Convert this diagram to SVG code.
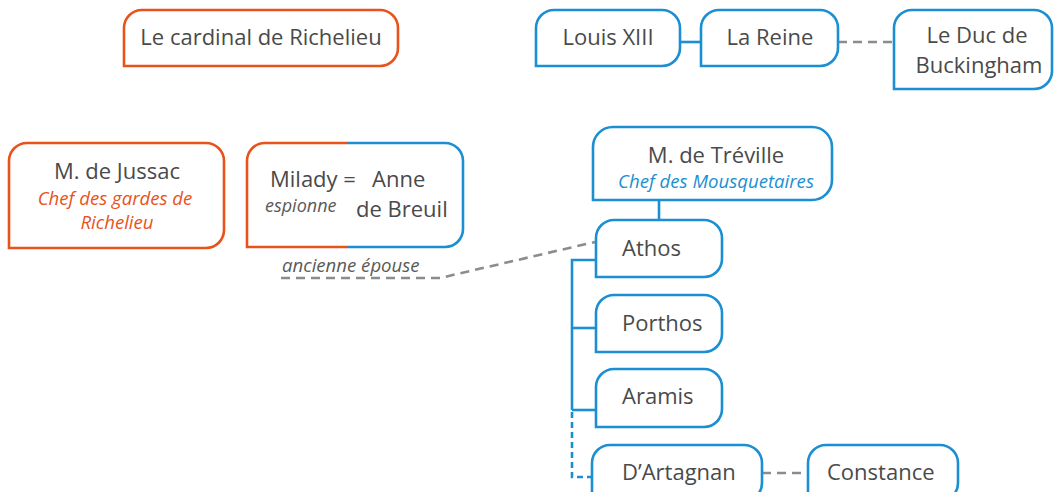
<svg xmlns="http://www.w3.org/2000/svg" width="1054" height="492" viewBox="0 0 1054 492">
<style>
.or{fill:#fff;stroke:#e8531c;stroke-width:2.6}
.bl{fill:#fff;stroke:#1b8fd2;stroke-width:2.6}
.t{font-family:"Open Sans","Liberation Sans",sans-serif;font-size:22px;fill:#4a4a4a}
.c{text-anchor:middle}
.i{font-style:italic;font-size:18.6px}
.io{fill:#e8531c}
.ib{fill:#1b8fd2}
.ig{fill:#5a5a5a}
.sl{fill:none;stroke:#1b8fd2;stroke-width:2.6}
.dl{fill:none;stroke:#1b8fd2;stroke-width:2.6;stroke-dasharray:6 4}
.dg{fill:none;stroke:#8c8c8c;stroke-width:2.6;stroke-dasharray:9 6}
</style>
<rect width="1054" height="492" fill="#fff"/>
<g id="connectors">
<line class="sl" x1="680" y1="42" x2="701" y2="42"/>
<line class="dg" x1="838" y1="42" x2="894" y2="42"/>
<line class="sl" x1="659" y1="200" x2="659" y2="220"/>
<path class="sl" d="M596 260 H572 V410"/>
<line class="sl" x1="572" y1="328" x2="596" y2="328"/>
<line class="sl" x1="572" y1="410" x2="596" y2="410"/>
<path class="dl" d="M572 412 V477 H592"/>
<path class="dg" d="M281 278 H440 L595 242"/>
<line class="dg" x1="762" y1="473" x2="808" y2="473"/>
</g>
<g id="richelieu">
<path class="or" d="M124 66 V28 A18 18 0 0 1 142 10 H380 A18 18 0 0 1 398 28 V48 A18 18 0 0 1 380 66 Z"/>
<text class="t c" x="261" y="45">Le cardinal de Richelieu</text>
</g>
<g id="louis">
<path class="bl" d="M536 66 V28 A18 18 0 0 1 554 10 H662 A18 18 0 0 1 680 28 V48 A18 18 0 0 1 662 66 Z"/>
<text class="t c" x="608" y="45">Louis XIII</text>
</g>
<g id="reine">
<path class="bl" d="M701 66 V28 A18 18 0 0 1 719 10 H820 A18 18 0 0 1 838 28 V48 A18 18 0 0 1 820 66 Z"/>
<text class="t c" x="770" y="45">La Reine</text>
</g>
<g id="buckingham">
<path class="bl" d="M894 89 V28 A18 18 0 0 1 912 10 H1034 A18 18 0 0 1 1052 28 V71 A18 18 0 0 1 1034 89 Z"/>
<text class="t c" x="977" y="43">Le Duc de</text>
<text class="t c" x="979" y="73">Buckingham</text>
</g>
<g id="jussac">
<path class="or" d="M9 248 V161 A18 18 0 0 1 27 143 H206 A18 18 0 0 1 224 161 V230 A18 18 0 0 1 206 248 Z"/>
<text class="t c" x="117" y="179">M. de Jussac</text>
<text class="t c i io" x="115" y="205">Chef des gardes de</text>
<text class="t c i io" x="117" y="229">Richelieu</text>
</g>
<g id="milady">
<path class="or" d="M347 247 H247 V161 A18 18 0 0 1 265 143 H347"/>
<path class="bl" style="fill:none" d="M347 143 H445 A18 18 0 0 1 463 161 V229 A18 18 0 0 1 445 247 H347"/>
<text class="t" x="270" y="187">Milady =</text>
<text class="t" x="372" y="187">Anne</text>
<text class="t i ig" x="265" y="212" style="font-size:18px">espionne</text>
<text class="t" x="356" y="217">de Breuil</text>
<text class="t i ig" x="282" y="272">ancienne épouse</text>
</g>
<g id="treville">
<path class="bl" d="M593 200 V147 A20 20 0 0 1 613 127 H812 A20 20 0 0 1 832 147 V180 A20 20 0 0 1 812 200 Z"/>
<text class="t c" x="716" y="163">M. de Tréville</text>
<text class="t c i ib" x="716" y="188">Chef des Mousquetaires</text>
</g>
<g id="athos">
<path class="bl" d="M596 277 V238 A18 18 0 0 1 614 220 H704 A18 18 0 0 1 722 238 V259 A18 18 0 0 1 704 277 Z"/>
<text class="t" x="622" y="256">Athos</text>
</g>
<g id="porthos">
<path class="bl" d="M596 352 V313 A18 18 0 0 1 614 295 H704 A18 18 0 0 1 722 313 V334 A18 18 0 0 1 704 352 Z"/>
<text class="t" x="622" y="331">Porthos</text>
</g>
<g id="aramis">
<path class="bl" d="M596 427 V387 A18 18 0 0 1 614 369 H704 A18 18 0 0 1 722 387 V409 A18 18 0 0 1 704 427 Z"/>
<text class="t" x="622" y="404">Aramis</text>
</g>
<g id="dartagnan">
<path class="bl" d="M592 501 V463 A18 18 0 0 1 610 445 H744 A18 18 0 0 1 762 463 V483 A18 18 0 0 1 744 501 Z"/>
<text class="t" x="622" y="480">D’Artagnan</text>
</g>
<g id="constance">
<path class="bl" d="M808 501 V463 A18 18 0 0 1 826 445 H940 A18 18 0 0 1 958 463 V483 A18 18 0 0 1 940 501 Z"/>
<text class="t" x="827" y="480">Constance</text>
</g>
</svg>
